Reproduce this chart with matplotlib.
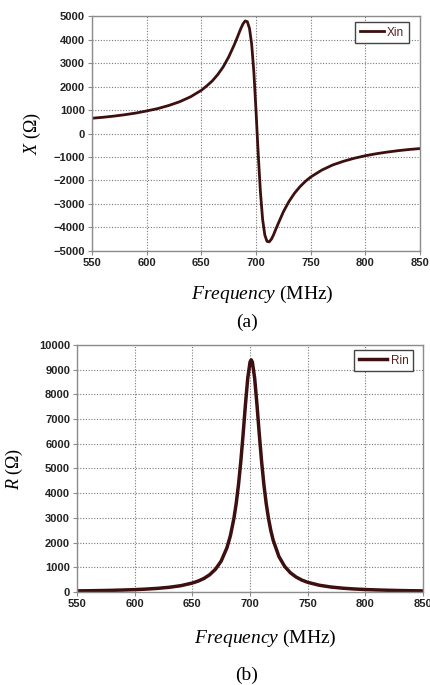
import matplotlib
matplotlib.use("Agg")
import matplotlib.pyplot as plt

# Valores (frequência em MHz, reatância e resistência em ohm)
freq = [550, 560, 570, 580, 590, 600, 610, 620, 630, 640, 650, 655, 660, 665,
        670, 675, 680, 683, 686, 688, 690, 692, 694, 696, 698, 700, 701, 702,
        704, 706, 708, 710, 712, 714, 716, 718, 720, 725, 730, 735, 740, 745,
        750, 760, 770, 780, 790, 800, 810, 820, 830, 840, 850]

xin = [650, 690, 740, 800, 870, 960, 1060, 1190, 1350, 1560, 1840, 2030, 2240,
       2510, 2840, 3260, 3770, 4110, 4460, 4660, 4790, 4760, 4470, 3790, 2600,
       930, 0, -900, -2500, -3660, -4320, -4590, -4610, -4500, -4310, -4080,
       -3860, -3330, -2900, -2550, -2270, -2040, -1850, -1560, -1340, -1180,
       -1050, -945, -860, -790, -730, -680, -640]

rin = [45, 50, 57, 66, 79, 95, 117, 147, 190, 255, 362, 441, 546, 698, 918,
       1253, 1794, 2284, 2975, 3581, 4346, 5287, 6390, 7581, 8652, 9311, 9400,
       9311, 8652, 7581, 6390, 5287, 4346, 3581, 2975, 2487, 2103, 1437, 1035,
       776, 602, 479, 390, 273, 201, 154, 122, 99, 82, 69, 58, 50, 44]

xticks = [550, 600, 650, 700, 750, 800, 850]
yticks_a = list(range(-5000, 5001, 1000))
yticks_b = list(range(0, 10001, 1000))

cor = '#3d0f0f'
cinza = '#8c8c8c'

plt.rcParams['mathtext.fontset'] = 'custom'
plt.rcParams['mathtext.rm'] = 'Liberation Serif'
plt.rcParams['mathtext.it'] = 'Liberation Serif:italic'

fig = plt.figure(figsize=(4.3, 6.85), dpi=100)
ax1 = fig.add_axes([0.214, 0.6336, 0.763, 0.343])
ax2 = fig.add_axes([0.179, 0.1358, 0.805, 0.3606])


def estilo(ax, yticks, ylab, ylx, xlx, xly):
    ax.set_xlim(550, 850)
    ax.set_ylim(yticks[0], yticks[-1])
    ax.set_xticks(xticks)
    ax.set_yticks(yticks)
    ax.grid(True, linestyle=(0, (1, 1.5)), color='#7a7a7a', linewidth=0.8)
    for s in ax.spines.values():
        s.set_color(cinza)
        s.set_linewidth(1.0)
    ax.tick_params(length=3, width=0.8, color=cinza, pad=2,
                   labelsize=8, labelcolor='#222222')
    for lab in ax.get_xticklabels() + ax.get_yticklabels():
        lab.set_fontfamily('Liberation Sans')
        lab.set_fontweight('bold')
    ax.set_ylabel(ylab, fontsize=13, family='Liberation Serif')
    ax.yaxis.set_label_coords(ylx, 0.5)
    ax.set_xlabel(r'$\mathit{Frequency}$ (MHz)', fontsize=14, family='Liberation Serif')
    ax.xaxis.set_label_coords(xlx, xly)


ax1.plot(freq, xin, color=cor, linewidth=2.0, label='Xin')
estilo(ax1, yticks_a, r'$\mathit{X}$ ($\Omega$)', -0.148, 0.52, -0.14)
leg1 = ax1.legend(loc='upper right', bbox_to_anchor=(0.966, 0.975), borderaxespad=0,
                  fancybox=False, framealpha=1, edgecolor='#444444',
                  prop={'family': 'Liberation Sans', 'size': 8.5},
                  handlelength=2.0, handletextpad=0.3, borderpad=0.4,
                  labelcolor='#5a1e1e')
leg1.get_frame().set_linewidth(1.0)

ax2.plot(freq, rin, color=cor, linewidth=2.5, label='Rin')
estilo(ax2, yticks_b, r'$\mathit{R}$ ($\Omega$)', -0.15, 0.543, -0.146)
leg2 = ax2.legend(loc='upper right', bbox_to_anchor=(0.971, 0.98), borderaxespad=0,
                  fancybox=False, framealpha=1, edgecolor='#444444',
                  prop={'family': 'Liberation Sans', 'size': 8.5},
                  handlelength=2.4, handletextpad=0.3, borderpad=0.4,
                  labelcolor='#5a1e1e')
leg2.get_frame().set_linewidth(1.0)

fig.text(0.574, 0.530, '(a)', ha='center', va='center', fontsize=14, family='Liberation Serif')
fig.text(0.574, 0.0146, '(b)', ha='center', va='center', fontsize=14, family='Liberation Serif')

fig.savefig('out.png', dpi=100)
